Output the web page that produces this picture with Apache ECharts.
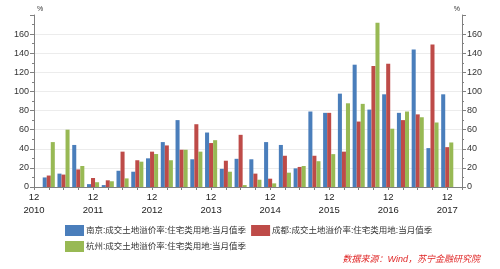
<!DOCTYPE html>
<html>
<head>
<meta charset="utf-8">
<script src="https://cdn.jsdelivr.net/npm/echarts@6/dist/echarts.min.js"></script>
<style>html,body{margin:0;padding:0;background:#fff}#c{width:500px;height:269px}</style>
</head>
<body>
<div id="c"></div>
<script>
// Quarterly categories (2010-12 .. 2018-03); axis spans from 2010-12 to 2018-03
const categories = ['2010-12',
  '2011-03','2011-06','2011-09','2011-12',
  '2012-03','2012-06','2012-09','2012-12',
  '2013-03','2013-06','2013-09','2013-12',
  '2014-03','2014-06','2014-09','2014-12',
  '2015-03','2015-06','2015-09','2015-12',
  '2016-03','2016-06','2016-09','2016-12',
  '2017-03','2017-06','2017-09','2017-12',
  '2018-03'];
const nanjing = [null,
  10, 14, 44, 3,
  2, 17, 16, 30,
  47, 70, 29, 57,
  19, 29.5, 29, 47,
  44, 19.5, 79, 77.6,
  97.7, 128, 81, 97,
  77.6, 144, 40.7, 97,
  null];
const chengdu = [null,
  12, 13, 18.4, 9.4,
  7, 37, 28, 37,
  43.5, 39, 65.7, 46,
  27.5, 54.6, 14, 8.7,
  32.7, 21, 32.7, 77.6,
  37, 68.5, 126.6, 129,
  70, 76, 149, 41.7,
  null];
const hangzhou = [null,
  47, 60, 22, 5,
  6, 9, 26.5, 34.5,
  28, 39, 37, 49,
  16, 2, 7.6, 3.8,
  15, 22, 27, 34.4,
  87.6, 87, 171.8, 61,
  79, 73, 67.5, 46.6,
  null];
const seriesNames = ['南京:成交土地溢价率:住宅类用地:当月值季', '成都:成交土地溢价率:住宅类用地:当月值季', '杭州:成交土地溢价率:住宅类用地:当月值季'];
const colors = ['#4a7ebb', '#be4b48', '#98b954'];
const FONT = "'Liberation Sans','Noto Sans CJK SC',sans-serif";

const chart = echarts.init(document.getElementById('c'));
function yAxis(pos) {
  return {
    type: 'value', position: pos, min: 0, max: 180, interval: 20,
    name: '%', nameLocation: 'end', nameGap: 2,
    nameTextStyle: { fontSize: 7, color: '#333', fontFamily: FONT, align: pos === 'left' ? 'left' : 'right', padding: pos === 'left' ? [0,0,0,3] : [0,2,0,0] },
    axisLine: { show: true, lineStyle: { color: '#808080' } },
    axisTick: { show: true, length: 4, lineStyle: { color: '#808080' } },
    minorTick: { show: true, splitNumber: 2, length: 2, lineStyle: { color: '#808080' } },
    axisLabel: { fontSize: 9, color: '#333', fontFamily: FONT, margin: 5, showMaxLabel: false },
    splitLine: { show: pos === 'left', showMaxLine: false, lineStyle: { color: '#ececec' } }
  };
}
chart.setOption({
  animation: false,
  color: colors,
  grid: { left: 34, right: 38, top: 15, bottom: 82 },
  xAxis: {
    type: 'category', data: categories, boundaryGap: false,
    axisLine: { lineStyle: { color: '#808080' } },
    axisTick: { show: true, length: 3, interval: 0, lineStyle: { color: '#808080' } },
    axisLabel: {
      interval: function (i, v) { return v.slice(5) === '12'; },
      formatter: function (v) { return v.slice(5) + '\n' + v.slice(0, 4); },
      fontSize: 9.5, lineHeight: 13, color: '#222', fontFamily: FONT, margin: 4
    },
    splitLine: { show: false }
  },
  yAxis: [yAxis('left'), yAxis('right')],
  legend: {
    left: 60, top: 220, width: 400, itemWidth: 19, itemHeight: 11, itemGap: 5,
    icon: 'rect',
    textStyle: { fontSize: 8.5, color: '#333', fontFamily: FONT, padding: [0,0,0,-3] },
    data: seriesNames
  },
  graphic: [{
    type: 'text', right: 20, top: 255,
    style: { text: '数据来源：Wind，苏宁金融研究院', fill: '#e02828', font: "italic 9px 'Liberation Sans','Noto Sans CJK SC',sans-serif" }
  }],
  series: [
    { name: seriesNames[0], type: 'bar', data: nanjing, barGap: '0%', barCategoryGap: '18%' },
    { name: seriesNames[1], type: 'bar', data: chengdu, barGap: '0%', barCategoryGap: '18%' },
    { name: seriesNames[2], type: 'bar', data: hangzhou, barGap: '0%', barCategoryGap: '18%' }
  ]
});
</script>
</body>
</html>
